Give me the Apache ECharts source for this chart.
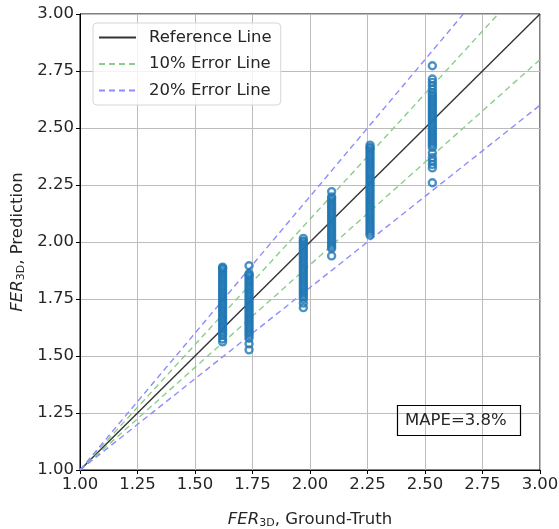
<!DOCTYPE html>
<html>
<head>
<meta charset="utf-8">
<style>html,body{margin:0;padding:0;background:#fff;}#c{width:559px;height:529px;}</style>
<script src="https://cdn.jsdelivr.net/npm/echarts@6/dist/echarts.min.js"></script>
</head>
<body>
<div id="c"></div>
<script>
// Tick labels
var tickValues = [1.00, 1.25, 1.50, 1.75, 2.00, 2.25, 2.50, 2.75, 3.00];
// Ground-truth value of each column of points
var groundTruth = [1.62, 1.735, 1.971, 2.094, 2.261, 2.532];
// Predictions per column
var predA = [1.89,1.885,1.88,1.87,1.86,1.85,1.84,1.83,1.82,1.81,1.80,1.79,1.78,1.77,1.76,1.75,1.74,1.73,1.72,1.71,1.70,1.69,1.68,1.67,1.66,1.65,1.64,1.63,1.62,1.61,1.60,1.59,1.575,1.562];
var predB = [1.896,1.862,1.855,1.85,1.84,1.83,1.82,1.81,1.80,1.79,1.78,1.77,1.76,1.75,1.74,1.73,1.72,1.71,1.70,1.69,1.68,1.67,1.66,1.65,1.64,1.63,1.62,1.61,1.60,1.59,1.578,1.553,1.527];
var predC = [2.016,2.005,2.00,1.99,1.98,1.97,1.96,1.95,1.94,1.93,1.92,1.91,1.90,1.89,1.88,1.87,1.86,1.85,1.84,1.83,1.82,1.81,1.80,1.79,1.78,1.77,1.76,1.75,1.732,1.712];
var predD = [2.221,2.198,2.19,2.18,2.17,2.16,2.15,2.14,2.13,2.12,2.11,2.10,2.09,2.08,2.07,2.06,2.05,2.04,2.03,2.02,2.01,2.00,1.99,1.98,1.972,1.939];
var predE = [2.425,2.415,2.41,2.40,2.39,2.38,2.37,2.36,2.35,2.34,2.33,2.32,2.31,2.30,2.29,2.28,2.27,2.26,2.25,2.24,2.23,2.22,2.21,2.20,2.19,2.18,2.17,2.16,2.15,2.14,2.13,2.12,2.11,2.10,2.09,2.08,2.07,2.06,2.05,2.04,2.03];
var predF = [2.773,2.715,2.70,2.685,2.67,2.655,2.645,2.635,2.625,2.615,2.605,2.595,2.585,2.575,2.565,2.555,2.545,2.535,2.525,2.515,2.505,2.495,2.485,2.475,2.465,2.455,2.445,2.435,2.425,2.415,2.39,2.37,2.355,2.34,2.325,2.26];
var predictions = [predA, predB, predC, predD, predE, predF];
// Reference / error line end points
var refLine = [[1, 1], [3, 3]];
var err10Up = [[1, 1], [3, 3.2]];
var err10Lo = [[1, 1], [3, 2.8]];
var err20Up = [[1, 1], [3, 3.4]];
var err20Lo = [[1, 1], [3, 2.6]];
var mapeText = 'MAPE=3.8%';

var scatterData = [];
groundTruth.forEach(function (gx, i) {
  predictions[i].forEach(function (v) { scatterData.push([gx, v]); });
});

var font = 'DejaVu Sans';
var fs = 16.5;
var txt = '#262626';
var green = '#8ccc8c';
var blue = '#8c8cff';
var chart = echarts.init(document.getElementById('c'), null, {renderer: 'canvas'});
var axisCommon = {
  type: 'value', min: 1, max: 3, interval: 0.25,
  axisLine: {show: true, onZero: false, lineStyle: {color: '#000', width: 1}},
  axisTick: {show: true, length: 4, lineStyle: {color: '#000'}},
  splitLine: {show: true, lineStyle: {color: '#bcbcbc', width: 1}},
  axisLabel: {color: txt, fontSize: fs, fontFamily: font, margin: 6,
    formatter: function (v) { return v.toFixed(2); }},
  nameLocation: 'middle',
  nameTextStyle: {color: txt, fontSize: fs, fontFamily: font,
    rich: {
      i: {fontStyle: 'italic', fontSize: fs, fontFamily: font, color: txt},
      s: {fontSize: 11, fontFamily: font, color: txt, padding: [7, 0, 0, 0]},
      n: {fontSize: fs, fontFamily: font, color: txt}
    }}
};
var option = {
  animation: false,
  backgroundColor: '#fff',
  grid: {left: 80, right: 19, top: 14, bottom: 59, show: true, borderColor: '#000', borderWidth: 1,
    containLabel: false, outerBoundsMode: 'none'},
  title: {text: mapeText, left: 397, top: 405, borderColor: '#000', borderWidth: 1.2,
    padding: [7, 14, 7, 8],
    textStyle: {fontSize: fs, fontWeight: 'normal', fontFamily: font, color: txt}},
  legend: {
    orient: 'vertical', left: 93, top: 23, padding: [6, 9, 6, 5],
    itemWidth: 37, itemHeight: 14, itemGap: 9.5,
    backgroundColor: 'rgba(255,255,255,0.8)', borderColor: '#d6d6d6', borderWidth: 1, borderRadius: 4,
    itemStyle: {opacity: 0},
    textStyle: {fontSize: fs, fontFamily: font, color: txt, padding: [0, 0, 0, 8]},
    data: ['Reference Line', '10% Error Line', '20% Error Line']
  },
  xAxis: Object.assign({}, axisCommon, {
    name: '{i|FER}{s|3D}{n|, Ground-Truth}', nameGap: 41
  }),
  yAxis: Object.assign({}, axisCommon, {
    name: '{i|FER}{s|3D}{n|, Prediction}', nameGap: 52
  }),
  series: [
    {name: 'Reference Line', type: 'line', data: refLine, symbol: 'none', clip: true,
      lineStyle: {color: '#333', width: 1.4}, itemStyle: {color: '#333'}, z: 3},
    {name: '10% Error Line', type: 'line', data: err10Up, symbol: 'none', clip: true,
      lineStyle: {color: green, width: 1.4, type: [6, 4]}, itemStyle: {color: green}, z: 3},
    {name: '10% Error Line', type: 'line', data: err10Lo, symbol: 'none', clip: true,
      lineStyle: {color: green, width: 1.4, type: [6, 4]}, itemStyle: {color: green}, z: 3},
    {name: '20% Error Line', type: 'line', data: err20Up, symbol: 'none', clip: true,
      lineStyle: {color: blue, width: 1.4, type: [6, 4]}, itemStyle: {color: blue}, z: 3},
    {name: '20% Error Line', type: 'line', data: err20Lo, symbol: 'none', clip: true,
      lineStyle: {color: blue, width: 1.4, type: [6, 4]}, itemStyle: {color: blue}, z: 3},
    {name: 'points', type: 'scatter', data: scatterData, symbol: 'circle', symbolSize: 7,
      itemStyle: {color: 'rgba(255,255,255,0)', borderColor: '#1f77b4', borderWidth: 2.4}, z: 4}
  ]
};
chart.setOption(option);
</script>
</body>
</html>
